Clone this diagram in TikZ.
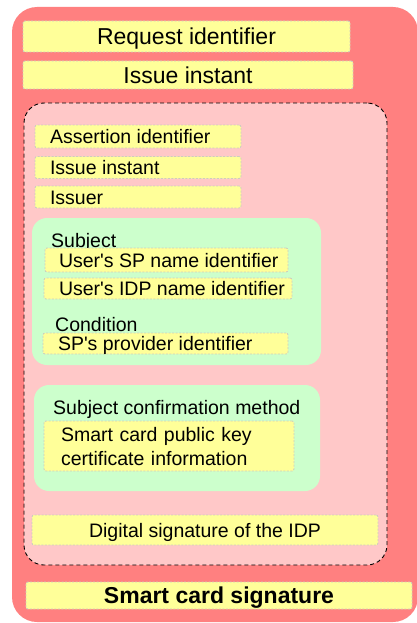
\documentclass[tikz,border=0pt]{standalone}
\usepackage{fontspec}
\setmainfont{Liberation Sans}
\definecolor{outerred}{RGB}{255,128,128}
\definecolor{innerpink}{RGB}{255,200,200}
\definecolor{groupgreen}{RGB}{204,255,204}
\definecolor{fieldyellow}{RGB}{255,255,153}
\definecolor{fieldborder}{RGB}{205,205,190}
\newcommand\lefttext[3]{\makebox[#1][l]{\hspace{#2}#3}}
\begin{document}
\begin{tikzpicture}[x=1pt,y=-1pt,
  bigfont/.style={font=\fontsize{23}{27}\selectfont, text height=16.5pt},
  smallfont/.style={font=\fontsize{19.5}{24}\selectfont, text height=14pt},
  field/.style={draw=fieldborder, fill=fieldyellow, dash pattern=on 2pt off 1.5pt,
    line width=0.9pt, rounded corners=2pt, inner sep=0pt, text depth=0pt},
  msgbox/.style={fill=outerred, rounded corners=25pt, inner sep=0pt},
  assertbox/.style={fill=innerpink, draw=black, dash pattern=on 4pt off 3pt, line width=0.9pt, rounded corners=20pt, inner sep=0pt},
  groupbox/.style={fill=groupgreen, rounded corners=15pt, inner sep=0pt},
  grouptitle/.style={smallfont, inner sep=0pt, anchor=west, text depth=0pt}
]
\useasboundingbox (0,0) rectangle (417,623);

\node[msgbox, minimum width=406pt, minimum height=615pt] (msg) at (215,314.5) {};

\node[field, bigfont, minimum width=327pt, minimum height=31pt] (req) at (186.5,36.5) {Request identifier};
\node[field, bigfont, minimum width=330pt, minimum height=28pt] (iss) at (188,75) {Issue instant};

\node[assertbox, minimum width=363pt, minimum height=462pt] (assert) at (205.5,334) {};

\node[field, smallfont, minimum height=23pt] (aid) at (138,136.5) {\lefttext{206pt}{15pt}{Assertion identifier}};
\node[field, smallfont, minimum height=22pt] (aiss) at (138,167.5) {\lefttext{206pt}{15pt}{Issue instant}};
\node[field, smallfont, minimum height=22pt] (issuer) at (138,197) {\lefttext{206pt}{15pt}{Issuer}};

\node[groupbox, minimum width=289pt, minimum height=147pt] (subject) at (176.5,291.5) {};
\node[grouptitle] (subjtitle) at (51,240) {Subject};
\node[field, smallfont, minimum height=24pt] (spname) at (166.5,260) {\lefttext{243pt}{14pt}{User\textquotesingle s SP name identifier}};
\node[field, smallfont, minimum height=21pt] (idpname) at (168,288.5) {\lefttext{248pt}{15pt}{User\textquotesingle s IDP name identifier}};
\node[grouptitle] (condtitle) at (55,324) {Condition};
\node[field, smallfont, minimum height=21pt] (prov) at (165.5,343.5) {\lefttext{245pt}{15pt}{SP\textquotesingle s provider identifier}};

\node[groupbox, minimum width=286pt, minimum height=106pt] (confirm) at (177,438) {};
\node[grouptitle] (conftitle) at (53,407) {Subject confirmation method};
\node[field, smallfont, minimum height=50pt, text width=216pt, inner xsep=17pt, align=left, text depth=24pt] (cert) at (169,446) {Smart card public key\\certificate information};

\node[field, smallfont, minimum width=346pt, minimum height=30pt] (dsig) at (205,530) {Digital signature of the IDP};

\node[field, bigfont, minimum width=386pt, minimum height=27pt] (scsig) at (219,595.5) {\bfseries Smart card signature};
\end{tikzpicture}
\end{document}
